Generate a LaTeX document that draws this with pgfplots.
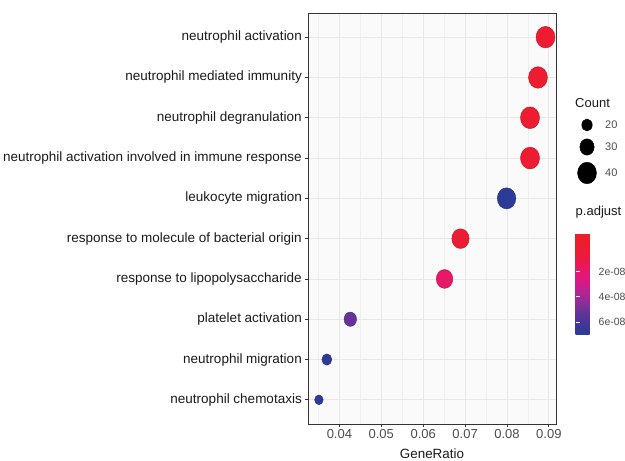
\documentclass[border=0pt]{standalone}
\usepackage{pgfplots}
\pgfplotsset{compat=1.18}
\usepackage{pgfplotstable}
\usepackage{fontspec}
\setmainfont{Liberation Sans}
\definecolor{gridc}{RGB}{232,232,232}
\definecolor{txtgray}{RGB}{77,77,77}
\definecolor{txtdark}{RGB}{26,26,26}
\definecolor{framec}{RGB}{51,51,51}
\newcommand\fs[1]{\fontsize{#1bp}{#1bp}\selectfont}

% y: category position (1 = bottom), x: GeneRatio, count: Count, r: dot radius, p: p.adjust (1e-8)
\pgfplotstableread{
y x count r p
10 0.0892 43 9.5 0.05
9 0.0874 42 9.5 0.08
8 0.0855 41 9.6 0.10
7 0.0855 41 9.6 0.12
6 0.0799 38 9.3 6.90
5 0.0689 33 8.7 0.30
4 0.0651 31 8.3 1.90
3 0.0426 20 6.3 5.20
2 0.0370 18 5.0 6.80
1 0.0351 17 4.3 6.85
}\godata

\pgfplotstableread{
x y count r
587 336 20 5.3
587 314 30 7.2
587 288 40 9.5
}\sizeleg

\pgfplotsset{colormap={padj}{rgb255=(237,30,36) rgb255=(237,29,45) rgb255=(236,27,55) rgb255=(234,25,80) rgb255=(228,23,115) rgb255=(210,26,140) rgb255=(175,38,148) rgb255=(135,47,150) rgb255=(95,52,152) rgb255=(65,55,152) rgb255=(43,58,152)}}

\begin{document}
\begin{tikzpicture}
\useasboundingbox (-308bp,-37bp) rectangle (317bp,424bp);
\begin{axis}[
  scale only axis, width=248bp, height=411bp,
  xmin=0.0325, xmax=0.0917, ymin=0.4, ymax=10.6,
  scaled x ticks=false,
  xtick={0.04,0.05,0.06,0.07,0.08,0.09},
  xticklabels={0.04,0.05,0.06,0.07,0.08,0.09},
  minor xtick={0.035,0.045,0.055,0.065,0.075,0.085},
  ytick={1,2,3,4,5,6,7,8,9,10},
  yticklabels={neutrophil chemotaxis, neutrophil migration, platelet activation, response to lipopolysaccharide, response to molecule of bacterial origin, leukocyte migration, neutrophil activation involved in immune response, neutrophil degranulation, neutrophil mediated immunity, neutrophil activation},
  grid=both,
  major grid style={gridc, line width=0.8bp},
  minor grid style={gridc!70, line width=0.5bp},
  axis background/.style={fill=black!2},
  axis line style={framec, line width=0.9bp},
  tick align=outside, xtick pos=bottom, ytick pos=left,
  major tick length=3bp, minor tick length=0pt,
  tick style={framec, line width=0.8bp},
  xticklabel style={font=\fs{13}, text=txtgray, anchor=north, inner sep=0pt, yshift=-2.5bp},
  yticklabel style={font=\fs{13.5}, text=txtdark, anchor=east, inner sep=0pt, xshift=-3bp},
  xlabel={GeneRatio},
  xlabel style={font=\fs{13.4}, text=txtdark, at={(axis description cs:0.5,0)}, anchor=north, inner sep=0pt, yshift=-25bp},
  colormap name=padj,
  point meta min=-1.04, point meta max=6.94,
  colorbar,
  colorbar style={
    at={(parent axis.north east)}, anchor=north west,
    xshift=11bp, yshift=-220bp,
    scale only axis, width=20bp, height=101bp,
    y dir=reverse,
    ytick={2,4,6}, yticklabels={2e-08,4e-08,6e-08},
    yticklabel style={font=\fs{10.5}, text=txtgray, inner sep=0pt, xshift=3bp},
    ytick pos=both, yticklabel pos=right, tick align=inside,
    major tick length=4bp, tick style={white, line width=0.8bp},
    axis line style={draw=none},
    title={p.adjust},
    title style={font=\fs{13}, text=txtdark, at={(0,1)}, anchor=base west, inner sep=0pt, yshift=12bp},
  },
]
\addplot[scatter, only marks, mark=*, point meta=explicit,
  visualization depends on={\thisrow{r} \as \rad},
  scatter/@pre marker code/.append style={/tikz/mark size=\rad pt},
  mark options={yscale=1.14}]
  table[x=x, y=y, meta=p] {\godata};
\end{axis}

\begin{axis}[
  at={(-308bp,-37bp)}, anchor=south west,
  scale only axis, width=625bp, height=461bp,
  xmin=0, xmax=625, ymin=0, ymax=461,
  hide axis, clip=false]
\addplot[scatter, only marks, mark=*, point meta=explicit,
  scatter/use mapped color={draw=black, fill=black},
  visualization depends on={\thisrow{r} \as \rad},
  scatter/@pre marker code/.append style={/tikz/mark size=\rad pt},
  mark options={yscale=1.14}]
  table[x=x, y=y, meta=count] {\sizeleg};
\node[anchor=base west, inner sep=0pt, font=\fs{13}, text=txtdark] at (axis cs:575,353) {Count};
\node[anchor=west, inner sep=0pt, font=\fs{11}, text=txtgray] at (axis cs:605,336) {20};
\node[anchor=west, inner sep=0pt, font=\fs{11}, text=txtgray] at (axis cs:605,314) {30};
\node[anchor=west, inner sep=0pt, font=\fs{11}, text=txtgray] at (axis cs:605,288) {40};
\end{axis}
\end{tikzpicture}
\end{document}
